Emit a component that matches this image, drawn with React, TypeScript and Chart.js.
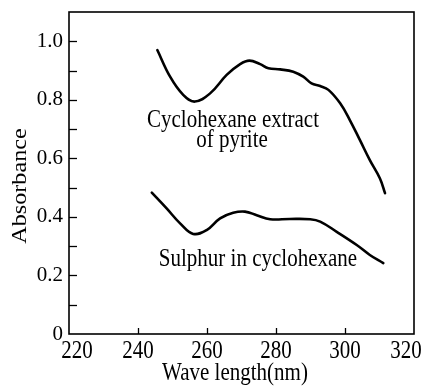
import React, { useEffect, useRef } from "react";
import { Chart, registerables } from "chart.js";

Chart.register(...registerables);

// Absorption spectra (wavelength in nm, absorbance)
const pyriteWavelength = [245.6, 249.3, 253.1, 256.5, 260.9, 265.7, 269.6, 272.3, 275.4, 277.8, 281.2, 285.0, 287.9, 290.3, 292.8, 295.2, 298.6, 301.4, 304.3, 307.2, 310.1, 311.6];
const pyriteAbsorbance = [0.970, 0.879, 0.817, 0.794, 0.822, 0.885, 0.922, 0.934, 0.922, 0.908, 0.904, 0.896, 0.879, 0.856, 0.847, 0.834, 0.788, 0.731, 0.663, 0.594, 0.532, 0.481];

const sulphurWavelength = [244.0, 248.3, 252.2, 256.0, 259.9, 263.8, 267.6, 271.0, 274.4, 278.3, 284.0, 289.9, 292.8, 297.6, 303.4, 307.2, 311.1];
const sulphurAbsorbance = [0.483, 0.429, 0.378, 0.342, 0.355, 0.395, 0.414, 0.418, 0.406, 0.392, 0.393, 0.392, 0.384, 0.349, 0.304, 0.270, 0.242];

const xMin = 220;
const xMax = 320;
const xStep = 20;
const yMin = 0;
const yMax = 1.1;
const yStep = 0.1;

const xTitle = "Wave length(nm)";
const yTitle = "Absorbance";
const pyriteLabel = ["Cyclohexane extract", "of pyrite"];
const sulphurLabel = "Sulphur in cyclohexane";

const FONT = '"Liberation Serif", "DejaVu Serif", serif';
const STRETCH = 1.15;

function drawStretched(ctx: CanvasRenderingContext2D, text: string, cx: number, baseline: number, size: number) {
  ctx.save();
  ctx.translate(cx, baseline);
  ctx.scale(1, STRETCH);
  ctx.font = `${size}px ${FONT}`;
  ctx.textAlign = "center";
  ctx.textBaseline = "alphabetic";
  ctx.fillStyle = "#000";
  ctx.fillText(text, 0, 0);
  ctx.restore();
}

const framePlugin = {
  id: "frameAndText",
  afterDraw(chart: any) {
    const { ctx, chartArea, scales } = chart;
    const xs = scales.x;
    const ys = scales.y;
    const { left, right, top, bottom } = chartArea;
    ctx.save();
    ctx.strokeStyle = "#000";
    ctx.lineWidth = 1.6;
    ctx.strokeRect(left, top, right - left, bottom - top);

    // inward ticks on the absorbance axis
    ctx.lineWidth = 1.3;
    ys.ticks.forEach((t: any) => {
      const v = Math.round(t.value * 10);
      if (v <= 0 || v > 10) return;
      const py = Math.round(ys.getPixelForValue(t.value)) + 0.5;
      ctx.beginPath();
      ctx.moveTo(left, py);
      ctx.lineTo(left + 8, py);
      ctx.stroke();
    });

    // inward ticks and labels on the wavelength axis
    const n = xs.ticks.length;
    xs.ticks.forEach((t: any, i: number) => {
      const px = xs.getPixelForValue(t.value);
      if (i > 0 && i < n - 1) {
        ctx.beginPath();
        ctx.moveTo(Math.round(px) + 0.5, bottom);
        ctx.lineTo(Math.round(px) + 0.5, bottom - 6);
        ctx.stroke();
      }
      let lx = px;
      if (i === 0) lx += 8;
      if (i === n - 1) lx -= 8;
      drawStretched(ctx, String(t.value), lx, bottom + 24, 21);
    });

    // axis titles
    drawStretched(ctx, xTitle, 235, 380, 21);
    ctx.save();
    ctx.translate(26, 186);
    ctx.rotate(-Math.PI / 2);
    ctx.scale(STRETCH, 1);
    ctx.font = `21px ${FONT}`;
    ctx.textAlign = "center";
    ctx.textBaseline = "alphabetic";
    ctx.fillStyle = "#000";
    ctx.fillText(yTitle, 0, 0);
    ctx.restore();

    // curve annotations
    drawStretched(ctx, pyriteLabel[0], 233, 127, 21);
    drawStretched(ctx, pyriteLabel[1], 232, 147, 21);
    drawStretched(ctx, sulphurLabel, 258, 266, 21);
    ctx.restore();
  },
};

export default function App() {
  const canvasRef = useRef<HTMLCanvasElement | null>(null);

  useEffect(() => {
    if (!canvasRef.current) return;
    const curve = (xs: number[], ys: number[]) => xs.map((x, i) => ({ x, y: ys[i] }));
    const chart = new Chart(canvasRef.current, {
      type: "line",
      data: {
        datasets: [
          {
            label: pyriteLabel.join(" "),
            data: curve(pyriteWavelength, pyriteAbsorbance),
            borderColor: "#000",
            borderWidth: 2.6,
            pointRadius: 0,
            tension: 0.4,
            borderCapStyle: "round",
            borderJoinStyle: "round",
            fill: false,
          },
          {
            label: sulphurLabel,
            data: curve(sulphurWavelength, sulphurAbsorbance),
            borderColor: "#000",
            borderWidth: 2.6,
            pointRadius: 0,
            tension: 0.4,
            borderCapStyle: "round",
            borderJoinStyle: "round",
            fill: false,
          },
        ],
      },
      options: {
        animation: false,
        responsive: false,
        layout: { padding: { top: 12, right: 12, left: 0, bottom: 0 } },
        plugins: {
          legend: { display: false },
          tooltip: { enabled: false },
        },
        scales: {
          x: {
            type: "linear",
            min: xMin,
            max: xMax,
            grid: { display: false, drawTicks: false },
            border: { display: false },
            ticks: { stepSize: xStep, display: false },
            afterFit(scale: any) {
              scale.height = 56;
              scale.paddingLeft = 0;
              scale.paddingRight = 0;
            },
          },
          y: {
            type: "linear",
            min: yMin,
            max: yMax,
            grid: { display: false, drawTicks: false },
            border: { display: false },
            ticks: {
              stepSize: yStep,
              autoSkip: false,
              padding: 6,
              color: "#000",
              font: { family: FONT, size: 21 },
              callback: (value: any) => {
                const v = Math.round(Number(value) * 10);
                if (v % 2 !== 0 || v > 10) return "";
                return v === 0 ? "0" : (v / 10).toFixed(1);
              },
            },
            afterFit(scale: any) {
              scale.width = 69;
              scale.paddingTop = 0;
              scale.paddingBottom = 0;
            },
          },
        },
      },
      plugins: [framePlugin],
    } as any);
    return () => chart.destroy();
  }, []);

  return (
    <div style={{ position: "fixed", left: 0, top: 0, width: 426, height: 390, background: "#fff" }}>
      <canvas ref={canvasRef} width={426} height={390} />
    </div>
  );
}
